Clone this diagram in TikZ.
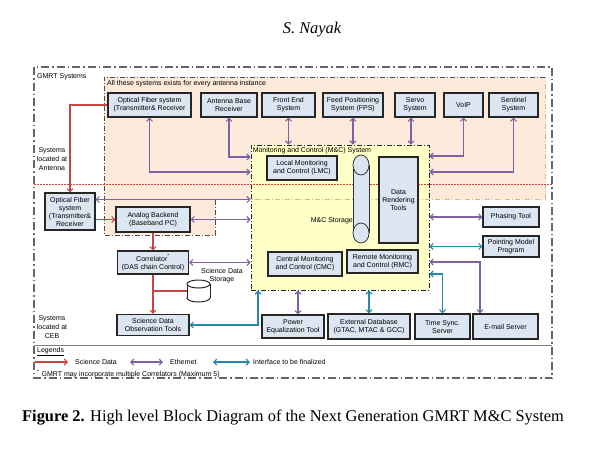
\documentclass[tikz,border=0pt]{standalone}
\usepackage{fontspec}
\setmainfont{Liberation Serif}
\setsansfont{Liberation Sans}
\usetikzlibrary{arrows.meta,calc}

\definecolor{boxfill}{RGB}{220,230,242}
\definecolor{antfill}{RGB}{253,234,218}
\definecolor{mcfill}{RGB}{255,255,200}
\definecolor{scired}{RGB}{200,70,65}
\definecolor{ethpurple}{RGB}{128,96,165}
\definecolor{tbdblue}{RGB}{40,135,170}

\begin{document}
\begin{tikzpicture}[
  x=1pt,y=-1pt,
  font=\sffamily\fontsize{7}{8}\selectfont,
  barb/.tip={Straight Barb[length=3pt,width=6pt]},
  sys/.style={draw=black!85,line width=1.1pt,fill=boxfill,align=center,inner sep=0pt},
  sci/.style={-barb,draw=scired,line width=1.1pt},
  eth/.style={barb-barb,draw=ethpurple,line width=1.1pt},
  tbd/.style={barb-barb,draw=tbdblue,line width=1.1pt},
  regionline/.style={dash pattern=on 5pt off 2pt on 1pt off 2pt,line width=0.7pt},
  lbl/.style={align=center,inner sep=0pt}
]
\useasboundingbox (0,0) rectangle (592,448);

\node[font=\rmfamily\itshape\fontsize{16.4}{19}\selectfont] (author) at (312,30) {S. Nayak};

% frames
\draw[line width=1.5pt,black!60,dash pattern=on 8pt off 3pt on 1.5pt off 3pt] (34,67) rectangle (552,378);
\fill[antfill] (104,77) -- (545,77) -- (545,199) -- (215,199) -- (215,235) -- (104,235) -- cycle;
\draw[regionline,black!70] (545,77) -- (104,77) -- (104,235) -- (215,235) -- (215,199);
\node[draw=black!85,regionline,line width=0.9pt,fill=mcfill,minimum width=178pt,minimum height=145pt,inner sep=0pt] (mc) at (340,217.5) {};
\draw[regionline,orange!60!gray!60] (215,199) -- (545,199) -- (545,77);
\draw[scired,line width=0.8pt,dash pattern=on 1.5pt off 1.5pt] (34,184) -- (552,184);
\draw[black!50,line width=0.8pt] (34,345) -- (552,345);

\node[anchor=west,inner sep=0pt] (gmrt) at (37,77) {GMRT Systems};
\node[anchor=west,inner sep=0pt] (every) at (107,84) {All these systems exists for every antenna instance};
\node[anchor=north west,inner sep=0pt] (mctitle) at ([xshift=2pt,yshift=-3pt]mc.north west) {Monitoring and Control (M\&C) System};
\node[lbl,font=\sffamily\fontsize{7}{9}\selectfont] (antlbl) at (52,159) {Systems\\located at\\Antenna};
\node[lbl,font=\sffamily\fontsize{7}{9}\selectfont] (ceblbl) at (52,327) {Systems\\located at\\CEB};

% antenna systems
\node[sys,minimum width=83pt,minimum height=24pt] (ofa) at (149.5,105) {Optical Fiber system\\(Transmitter\& Receiver};
\node[sys,minimum width=56pt,minimum height=24pt] (abr) at (229,105) {Antenna Base\\Receiver};
\node[sys,minimum width=53pt,minimum height=24pt] (fes) at (288.5,105) {Front End\\System};
\node[sys,minimum width=60pt,minimum height=24pt] (fps) at (353,105) {Feed Positioning\\System (FPS)};
\node[sys,minimum width=40pt,minimum height=24pt] (servo) at (415,105) {Servo\\System};
\node[sys,minimum width=39pt,minimum height=24pt] (voip) at (463.5,105) {VoIP};
\node[sys,minimum width=49pt,minimum height=24pt] (sentinel) at (513.5,105) {Sentinel\\System};

% inside M&C
\node[sys,minimum width=70pt,minimum height=24pt] (lmc) at (302,168) {Local Monitoring\\and Control (LMC)};
\node[sys,minimum width=39pt,minimum height=86pt] (drt) at (398.5,200) {Data\\Rendering\\Tools};
\node[sys,minimum width=74pt,minimum height=24pt] (cmc) at (305,264) {Central Monitoring\\and Control (CMC)};
\node[sys,minimum width=71pt,minimum height=23pt] (rmc) at (382.5,261.5) {Remote Monitoring\\and Control (RMC)};
\fill[boxfill] (353,165) rectangle (369,233);
\draw[line width=0.8pt,black!80] (353,165) -- (353,233) (369,165) -- (369,233);
\draw[line width=0.8pt,black!80,fill=boxfill] (361,165) ellipse [x radius=8,y radius=10];
\draw[line width=0.8pt,black!80,fill=boxfill] (361,233) ellipse [x radius=8,y radius=10];
\node[anchor=east,inner sep=0pt] (mcstore) at (353,221) {M\&C Storage};

% CEB systems
\node[sys,minimum width=50pt,minimum height=37pt] (ofc) at (70,211.5) {Optical Fiber\\system\\(Transmitter\&\\Receiver};
\node[sys,minimum width=74pt,minimum height=25pt] (ab) at (153,219.5) {Analog Backend\\(Baseband PC)};
\node[sys,minimum width=71pt,minimum height=23pt] (corr) at (153,262.5) {Correlator\textsuperscript{*}\\(DAS chain Control)};
\node[minimum width=23pt,minimum height=22pt,inner sep=0pt] (sds) at (198.5,291) {};
\draw[line width=1pt,black!85,fill=white] (198.5,298) ellipse [x radius=11.5,y radius=4];
\fill[white] (187,284) rectangle (210,298);
\draw[line width=1pt,black!85] (187,284) -- (187,298) (210,284) -- (210,298);
\draw[line width=1pt,black!85,fill=white] (198.5,284) ellipse [x radius=11.5,y radius=4];
\node[lbl] (sdslbl) at (222,276) {Science Data\\Storage};
\node[sys,minimum width=72pt,minimum height=21pt] (sdot) at (153,325) {Science Data\\Observation Tools};
\node[sys,minimum width=56pt,minimum height=20pt] (phase) at (511,217) {Phasing Tool};
\node[sys,minimum width=56pt,minimum height=21pt] (point) at (511,246.5) {Pointing Model\\Program};
\node[sys,minimum width=62pt,minimum height=23pt] (pet) at (293,326.5) {Power\\Equalization Tool};
\node[sys,minimum width=82pt,minimum height=25pt] (edb) at (369,326.5) {External Database\\(GTAC, MTAC \& GCC)};
\node[sys,minimum width=55pt,minimum height=25pt] (tss) at (442.5,326.5) {Time Sync.\\Server};
\node[sys,minimum width=65pt,minimum height=25pt] (email) at (505.5,326.5) {E-mail Server};

% science data
\draw[sci] (ofa.west) -| (ofc.north);
\draw[sci] (ofc.east |- ab.west) -- (ab.west);
\draw[sci] (ab.south) -- (corr.north);
\draw[sci] (corr.south) -- (sdot.north);
\draw[scired,line width=1.1pt] (corr.south |- sds.west) -- (sds.west);
% ethernet
\draw[eth] (ofa.south) |- ([yshift=45.5pt]mc.west);
\draw[eth] (abr.south) |- ([yshift=60.5pt]mc.west);
\draw[eth] (fes.south) -- (fes.south |- mc.north);
\draw[eth] (fps.south) -- (fps.south |- mc.north);
\draw[eth] ([xshift=-4pt]servo.south) -- ([xshift=-4pt]servo.south |- mc.north);
\draw[eth] (voip.south) |- ([yshift=61.5pt]mc.east);
\draw[eth] (sentinel.south) |- ([yshift=45.5pt]mc.east);
\draw[eth] ([yshift=12pt]ofc.east) -- ([yshift=12pt]ofc.east -| mc.west);
\draw[eth] (ab.east) -- (ab.east -| mc.west);
\draw[eth] (corr.east) -- (corr.east -| mc.west);
\draw[eth] (mc.east |- phase.west) -- (phase.west);
\draw[eth] ([xshift=5pt]pet.north) -- ([xshift=5pt]pet.north |- mc.south);
\draw[eth] ([xshift=-25.5pt]email.north) |- ([yshift=-44.5pt]mc.east);
% to be finalized
\draw[tbd] (mc.east |- point.west) -- (point.west);
\draw[tbd] (tss.north) |- ([yshift=-56.5pt]mc.east);
\draw[tbd] (edb.north) -- (edb.north |- mc.south);
\draw[tbd] (sdot.east) -| ([xshift=-82pt]mc.south);

% legend
\node[anchor=west,inner sep=0pt] (legtitle) at (37,352) {\underline{Legends}};
\coordinate (lsci0) at (35,362);
\node[anchor=west,inner sep=0pt] (lsci) at (75,362) {Science Data};
\draw[sci] (lsci0) -- ([xshift=-7pt]lsci.west);
\coordinate (leth0) at (130,362);
\node[anchor=west,inner sep=0pt] (leth) at (170,362) {Ethernet};
\draw[eth] (leth0) -- ([xshift=-7pt]leth.west);
\coordinate (ltbd0) at (213,362);
\node[anchor=west,inner sep=0pt] (ltbd) at (253,362) {Interface to be finalized};
\draw[tbd] (ltbd0) -- ([xshift=-3pt]ltbd.west);
\node[anchor=west,inner sep=0pt] (fnote) at (37,374) {\textsuperscript{*} GMRT may incorporate multiple Correlators (Maximum 5)};

\node[anchor=west,inner sep=0pt,font=\rmfamily\fontsize{16.4}{19}\selectfont] (caption) at (22,418) {\textbf{Figure 2.} High level Block Diagram of the Next Generation GMRT M\&C System};
\end{tikzpicture}
\end{document}
